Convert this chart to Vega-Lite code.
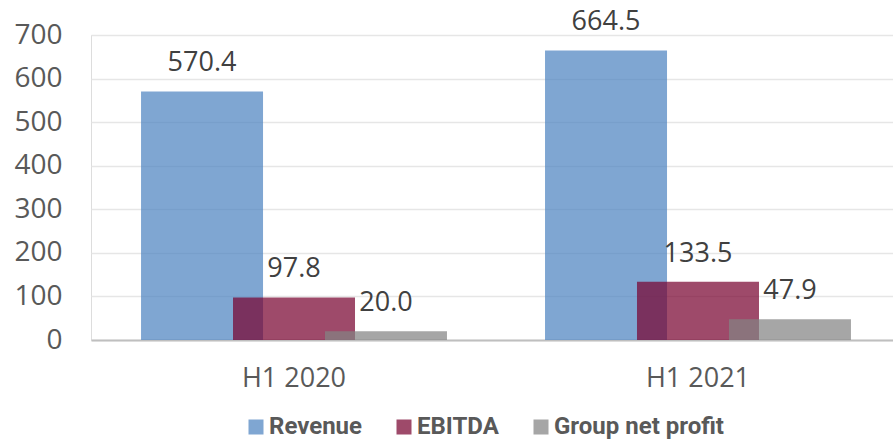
{
  "$schema": "https://vega.github.io/schema/vega-lite/v6.json",
  "width": 810,
  "height": 305,
  "autosize": {"type": "none"},
  "padding": {"left": 91, "top": 35, "right": 0, "bottom": 101},
  "background": "white",
  "data": {
    "values": [
      {"period": "H1 2020", "metric": "Revenue", "value": 570.4},
      {"period": "H1 2020", "metric": "EBITDA", "value": 97.8},
      {"period": "H1 2020", "metric": "Group net profit", "value": 20.0},
      {"period": "H1 2021", "metric": "Revenue", "value": 664.5},
      {"period": "H1 2021", "metric": "EBITDA", "value": 133.5},
      {"period": "H1 2021", "metric": "Group net profit", "value": 47.9}
    ]
  },
  "encoding": {
    "x": {
      "field": "period",
      "type": "nominal",
      "sort": null,
      "scale": {"paddingInner": 0.317, "paddingOuter": 0.161},
      "axis": {
        "title": null,
        "labelAngle": 0,
        "ticks": false,
        "domainColor": "#bfbfbf",
        "domainWidth": 2,
        "labelFont": "Open Sans",
        "labelFontSize": 27,
        "labelColor": "#595959",
        "labelPadding": 25,
        "grid": false
      }
    },
    "xOffset": {
      "field": "metric",
      "type": "nominal",
      "sort": ["Revenue", "EBITDA", "Group net profit"],
      "scale": {"paddingInner": 0, "paddingOuter": 0}
    },
    "y": {
      "field": "value",
      "type": "quantitative",
      "scale": {"domain": [0, 700], "nice": false},
      "axis": {
        "title": null,
        "values": [0, 100, 200, 300, 400, 500, 600, 700],
        "ticks": false,
        "domain": false,
        "gridColor": "#e6e6e6",
        "gridWidth": 1.5,
        "labelFont": "Open Sans",
        "labelFontSize": 28,
        "labelColor": "#595959",
        "labelPadding": 29
      }
    }
  },
  "layer": [
    {
      "mark": {"type": "bar", "width": 122, "opacity": 0.72},
      "encoding": {
        "color": {
          "field": "metric",
          "type": "nominal",
          "sort": ["Revenue", "EBITDA", "Group net profit"],
          "scale": {
            "domain": ["Revenue", "EBITDA", "Group net profit"],
            "range": ["#4d83c0", "#780430", "#838383"]
          },
          "legend": {
            "title": null,
            "orient": "none",
            "direction": "horizontal",
            "legendX": 153,
            "legendY": 380,
            "symbolType": "square",
            "symbolSize": 225,
            "symbolStrokeWidth": 0,
            "symbolOpacity": 0.72,
            "labelFont": "Roboto",
            "labelFontWeight": "bold",
            "labelFontSize": 24,
            "labelColor": "#595959",
            "labelOffset": 1,
            "labelLimit": 400,
            "columnPadding": 30
          }
        }
      }
    },
    {
      "mark": {
        "type": "text",
        "dy": -20,
        "baseline": "alphabetic",
        "font": "Open Sans",
        "fontSize": 27,
        "color": "#404040"
      },
      "encoding": {
        "text": {"field": "value", "type": "quantitative", "format": ".1f"}
      }
    }
  ]
}
